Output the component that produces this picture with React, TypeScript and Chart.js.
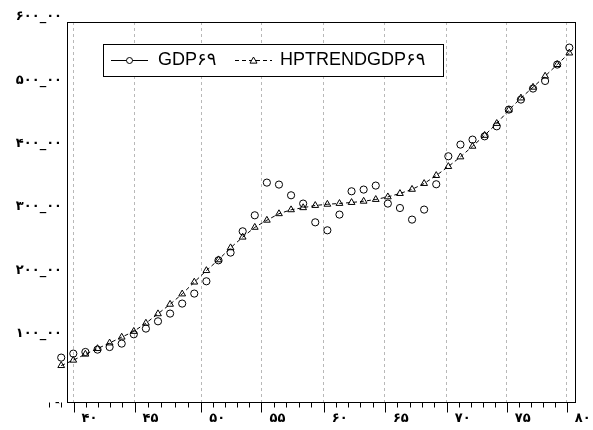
import React, { useEffect, useRef } from "react";
import { Chart, registerables } from "chart.js";

Chart.register(...registerables);

// ---- data ----
const years = [
  38, 39, 40, 41, 42, 43, 44, 45, 46, 47, 48, 49, 50, 51, 52, 53, 54, 55, 56, 57, 58,
  59, 60, 61, 62, 63, 64, 65, 66, 67, 68, 69, 70, 71, 72, 73, 74, 75, 76, 77, 78, 79, 80,
];
const gdp69 = [
  70100, 76400, 79000, 82700, 86800, 92200, 106900, 115900, 127400, 139600, 155400,
  171200, 190600, 223700, 235900, 269500, 294800, 346400, 343300, 326400, 313300,
  283700, 271100, 295900, 332700, 335400, 341700, 313300, 306300, 288000, 303800,
  343800, 388000, 406400, 414300, 419500, 435300, 461700, 477500, 494900, 506900,
  532800, 559600,
];
const hpTrendGdp69 = [
  57500, 66000, 75500, 84300, 93200, 102400, 111500, 124500, 139300, 154300, 170600,
  189300, 207500, 224500, 243500, 260300, 275800, 287000, 297300, 303500, 306800,
  310300, 312200, 313500, 315000, 317000, 319800, 323900, 329200, 335800, 345000,
  357600, 371800, 387000, 403800, 421000, 439800, 461000, 480000, 497000, 514500,
  532800, 551000,
];
const xTickLabels = ["۴۰", "۴۵", "۵۰", "۵۵", "۶۰", "۶۵", "۷۰", "۷۵", "۸۰"];
const yTickValues = [0, 100000, 200000, 300000, 400000, 500000, 600000];
const yTickLabels = ["_", "۱۰۰_۰۰", "۲۰۰_۰۰", "۳۰۰_۰۰", "۴۰۰_۰۰", "۵۰۰_۰۰", "۶۰۰_۰۰"];
const legendLabels = ["GDP۶۹", "HPTRENDGDP۶۹"];

// ---- axis configuration (EViews-style tick placement) ----
const X_SCALE_MIN = 37.9; // lets the first observation sit left of the frame
const X_FRAME_MIN = 38.44; // where the plot frame's left edge sits
const X_MAX = 80.47;
const X_TICK_POS = [39.02, 44.06, 49.58, 54.55, 59.7, 64.75, 69.86, 74.82, 79.78];

const framePlugin = {
  id: "framePlugin",
  beforeDatasetsDraw(chart: any) {
    const { ctx, chartArea } = chart;
    const xs = chart.scales.x;
    const left = Math.round(xs.getPixelForValue(X_FRAME_MIN));
    ctx.save();
    ctx.fillStyle = "#fff";
    ctx.fillRect(chartArea.left - 1, chartArea.top - 1, left - chartArea.left + 1, chartArea.bottom - chartArea.top + 2);
    ctx.restore();
  },
  afterDraw(chart: any) {
    const { ctx, chartArea } = chart;
    const { right, top, bottom } = chartArea;
    const xs = chart.scales.x;
    const left = Math.round(xs.getPixelForValue(X_FRAME_MIN));
    ctx.save();
    // frame
    ctx.strokeStyle = "#000";
    ctx.lineWidth = 1;
    ctx.setLineDash([]);
    ctx.strokeRect(left + 0.5, Math.round(top) + 0.5, Math.round(right) - left, Math.round(bottom - top));
    // ticks (major + minor)
    const by = Math.round(bottom) + 0.5;
    ctx.beginPath();
    const step = (X_TICK_POS[X_TICK_POS.length - 1] - X_TICK_POS[0]) / (X_TICK_POS.length - 1) / 5;
    for (let i = 0; i < X_TICK_POS.length; i++) {
      const px = Math.round(xs.getPixelForValue(X_TICK_POS[i])) + 0.5;
      ctx.moveTo(px, by);
      ctx.lineTo(px, by + 10);
      if (i < X_TICK_POS.length - 1) {
        const sub = (X_TICK_POS[i + 1] - X_TICK_POS[i]) / 5;
        for (let k = 1; k < 5; k++) {
          const mx = Math.round(xs.getPixelForValue(X_TICK_POS[i] + k * sub)) + 0.5;
          ctx.moveTo(mx, by);
          ctx.lineTo(mx, by + 5);
        }
      }
    }
    for (let k = 1; k <= 2; k++) {
      const mx = Math.round(xs.getPixelForValue(X_TICK_POS[0] - k * step)) + 0.5;
      ctx.moveTo(mx, by);
      ctx.lineTo(mx, by + 5);
    }
    ctx.stroke();

    // legend
    const bx = 103.5, byy = 44.5, bw = 340, bh = 32;
    ctx.fillStyle = "#fff";
    ctx.fillRect(bx, byy, bw, bh);
    ctx.strokeStyle = "#000";
    ctx.strokeRect(bx, byy, bw, bh);
    const cy = 60.5;
    // item 1
    ctx.beginPath();
    ctx.moveTo(111, cy);
    ctx.lineTo(148, cy);
    ctx.stroke();
    ctx.beginPath();
    ctx.fillStyle = "#fff";
    ctx.arc(129.5, cy, 3, 0, Math.PI * 2);
    ctx.fill();
    ctx.stroke();
    // item 2
    ctx.setLineDash([4, 3]);
    ctx.beginPath();
    ctx.moveTo(235, cy);
    ctx.lineTo(272, cy);
    ctx.stroke();
    ctx.setLineDash([]);
    ctx.beginPath();
    ctx.fillStyle = "#fff";
    const tx = 253.5, r = 3.5;
    ctx.moveTo(tx, cy - r);
    ctx.lineTo(tx + r, cy + r * 0.75);
    ctx.lineTo(tx - r, cy + r * 0.75);
    ctx.closePath();
    ctx.fill();
    ctx.stroke();
    ctx.fillStyle = "#000";
    ctx.font = "18px 'Liberation Sans', Arial, 'DejaVu Sans', sans-serif";
    ctx.textBaseline = "middle";
    ctx.textAlign = "left";
    ctx.fillText(legendLabels[0], 158, cy);
    ctx.fillText(legendLabels[1], 280, cy);
    ctx.restore();
  },
};

export default function App() {
  const ref = useRef<HTMLCanvasElement | null>(null);
  useEffect(() => {
    document.body.style.margin = "0";
    const canvas = ref.current;
    if (!canvas) return;
    const chart = new Chart(canvas, {
      type: "scatter",
      data: {
        datasets: [
          {
            label: legendLabels[0],
            data: years.map((y, i) => ({ x: y, y: gdp69[i] })),
            showLine: false,
            pointStyle: "circle",
            pointRadius: 3.6,
            borderColor: "#000",
            backgroundColor: "rgba(0,0,0,0)",
            pointBorderWidth: 1,
            clip: false,
          } as any,
          {
            label: legendLabels[1],
            data: years.map((y, i) => ({ x: y, y: hpTrendGdp69[i] })),
            showLine: true,
            borderDash: [4, 3],
            borderWidth: 1,
            borderColor: "#000",
            pointStyle: "triangle",
            pointRadius: 3.9,
            pointBorderWidth: 1,
            backgroundColor: "rgba(0,0,0,0)",
            clip: false,
          } as any,
        ],
      },
      options: {
        animation: false,
        responsive: false,
        events: [],
        layout: { padding: { left: 0, top: 22, right: 18, bottom: 0 } },
        plugins: { legend: { display: false }, tooltip: { enabled: false } },
        scales: {
          x: {
            type: "linear",
            min: X_SCALE_MIN,
            max: X_MAX,
            afterBuildTicks: (s: any) => {
              s.ticks = X_TICK_POS.map((v) => ({ value: v }));
            },
            afterFit: (s: any) => {
              s.height = 28;
            },
            ticks: {
              callback: (_v: any, i: number) => xTickLabels[i],
              labelOffset: 16,
              padding: 9,
              maxRotation: 0,
              autoSkip: false,
              color: "#000",
              font: { family: "'DejaVu Sans'", size: 13, weight: "bold" },
            },
            grid: { display: true, drawTicks: false, color: "#b8b8b8", lineWidth: 1 },
            border: { display: false, dash: [3, 3] },
          },
          y: {
            type: "linear",
            min: 0,
            max: 600000,
            afterBuildTicks: (s: any) => {
              s.ticks = yTickValues.map((v) => ({ value: v }));
            },
            afterFit: (s: any) => {
              s.width = 60;
            },
            ticks: {
              callback: (_v: any, i: number) => yTickLabels[i],
              labelOffset: -5,
              padding: -2,
              color: "#000",
              font: { family: "'DejaVu Sans'", size: 13, weight: "bold" },
            },
            grid: { display: false, drawTicks: false },
            border: { display: false },
          },
        },
      } as any,
      plugins: [framePlugin],
    });
    return () => chart.destroy();
  }, []);
  return (
    <div style={{ position: "absolute", left: 0, top: 0, width: 593, height: 430, background: "#fff" }}>
      <canvas ref={ref} width={593} height={430} style={{ width: 593, height: 430 }} />
    </div>
  );
}
